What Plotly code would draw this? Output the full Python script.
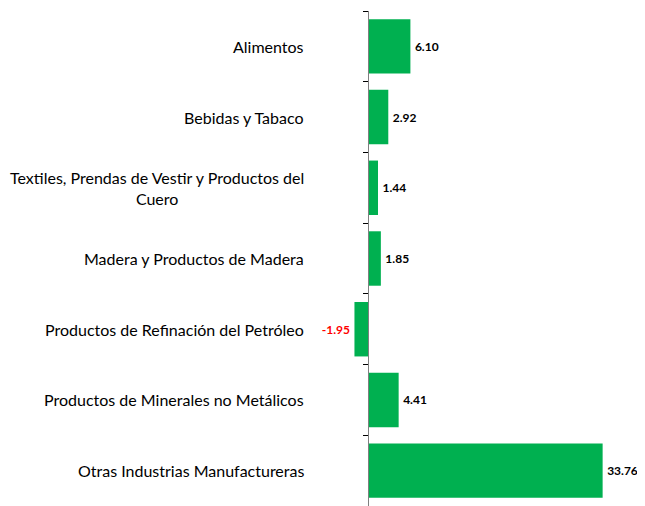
import plotly.graph_objects as go

categories = [
    "Alimentos",
    "Bebidas y Tabaco",
    "Textiles, Prendas de Vestir y Productos del<br>Cuero",
    "Madera y Productos de Madera",
    "Productos de Refinación del Petróleo",
    "Productos de Minerales no Metálicos",
    "Otras Industrias Manufactureras",
]
values = [6.10, 2.92, 1.44, 1.85, -1.95, 4.41, 33.76]
value_labels = ["6.10", "2.92", "1.44", "1.85", "-1.95", "4.41", "33.76"]

# page body has an 8px margin
OFF = 8
W, H = 645 - OFF, 506 - OFF
ML, MR, MT, MB = 325, 0, 3, 0
PX_PER_UNIT = 6.95
xmin = -35 / PX_PER_UNIT
plot_w = W - ML - MR
xmax = xmin + plot_w / PX_PER_UNIT
zero_pos = (0 - xmin) / (xmax - xmin)

label_colors = ["#FF0000" if v < 0 else "#000000" for v in values]
padded = [("\u2009" + t) if v >= 0 else (t + "\u2009") for t, v in zip(value_labels, values)]

fig = go.Figure(go.Bar(
    y=categories,
    x=values,
    orientation="h",
    marker=dict(color="#00B050", line=dict(width=0)),
    text=padded,
    textposition="outside",
    constraintext="none",
    textfont=dict(family="Lato", size=12, color=label_colors, weight="bold"),
    cliponaxis=False,
))

annotations = []
label_right_px = 306 - OFF
for c in categories:
    annotations.append(dict(
        x=(label_right_px - ML) / plot_w, xref="paper",
        y=c, yref="y",
        text=c, showarrow=False, xanchor="right", align="center",
        font=dict(family="Lato", size=16, color="#000000"),
    ))

fig.update_layout(
    width=W, height=H,
    margin=dict(l=ML, r=MR, t=MT, b=MB),
    paper_bgcolor="white", plot_bgcolor="white",
    showlegend=False,
    bargap=0.23,
    annotations=annotations,
)
fig.update_xaxes(range=[xmin, xmax], visible=False, showgrid=False, zeroline=False)
fig.update_yaxes(
    type="category", autorange="reversed",
    anchor="free", position=zero_pos,
    showline=True, linecolor="#7F7F7F", linewidth=1,
    ticks="outside", tickson="boundaries", ticklen=5, tickcolor="#000000",
    showticklabels=False, showgrid=False, automargin=False,
)

fig.write_html("out.html")
